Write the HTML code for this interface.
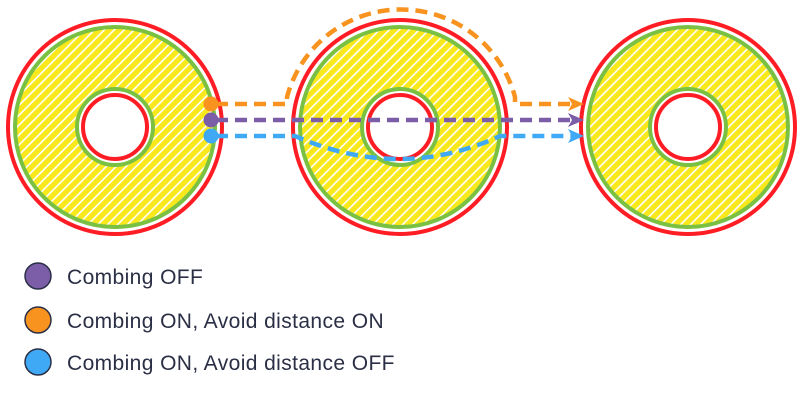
<!DOCTYPE html>
<html><head><style>
html,body{margin:0;padding:0;background:#fff;}
svg{display:block;}
text{font-family:"Liberation Sans",sans-serif;font-size:21px;letter-spacing:0.4px;fill:#2a2f45;}
</style></head><body>
<svg width="800" height="400" viewBox="0 0 800 400">
<defs>
<pattern id="h" width="7" height="7" patternUnits="userSpaceOnUse" patternTransform="rotate(45)">
<rect width="7" height="7" fill="#f8e81c"/>
<rect x="0" y="0" width="1.6" height="7" fill="#fff"/>
</pattern>
<marker id="ao" markerWidth="16" markerHeight="16" refX="8" refY="8" orient="auto" markerUnits="userSpaceOnUse"><path d="M0,1 L16,8 L0,15 L4,8z" fill="#f7931e"/></marker>
<marker id="ap" markerWidth="16" markerHeight="16" refX="8" refY="8" orient="auto" markerUnits="userSpaceOnUse"><path d="M0,1 L16,8 L0,15 L4,8z" fill="#7b5ea7"/></marker>
<marker id="ab" markerWidth="16" markerHeight="16" refX="8" refY="8" orient="auto" markerUnits="userSpaceOnUse"><path d="M0,1 L16,8 L0,15 L4,8z" fill="#3fa9f5"/></marker>
<g id="c">
<circle cx="0" cy="0" r="107" fill="#fff" stroke="#ff1d25" stroke-width="4"/>
<circle cx="0" cy="0" r="100" fill="url(#h)" stroke="#7ac143" stroke-width="4"/>
<circle cx="0" cy="0" r="38" fill="#fff" stroke="#7ac143" stroke-width="4"/>
<circle cx="0" cy="0" r="32" fill="#fff" stroke="#ff1d25" stroke-width="4"/>
</g>
</defs>
<use href="#c" x="115" y="127"/>
<use href="#c" x="400" y="127"/>
<use href="#c" x="688" y="127"/>
<g fill="none" stroke-width="4.5" stroke-dasharray="12,7">
<path d="M216,104 H287 L287,97 A118,118 0 0 1 515,97 L515,104 H576" stroke="#f7931e" marker-end="url(#ao)"/>
<path d="M216,120 H576" stroke="#7b5ea7" marker-end="url(#ap)"/>
<path d="M216,136 H295 Q400,182 500,136 H576" stroke="#3fa9f5" marker-end="url(#ab)"/>
</g>
<circle cx="211" cy="104" r="7.5" fill="#f7931e"/>
<circle cx="211" cy="120" r="7.5" fill="#7b5ea7"/>
<circle cx="211" cy="136" r="7.5" fill="#3fa9f5"/>
<circle cx="38" cy="276" r="13" fill="#7b5ea7" stroke="#2a2f45" stroke-width="1.5"/>
<circle cx="38" cy="320" r="13" fill="#f7931e" stroke="#2a2f45" stroke-width="1.5"/>
<circle cx="38" cy="362" r="13" fill="#3fa9f5" stroke="#2a2f45" stroke-width="1.5"/>
<text x="67" y="284">Combing OFF</text>
<text x="67" y="328">Combing ON, Avoid distance ON</text>
<text x="67" y="370">Combing ON, Avoid distance OFF</text>
</svg>
</body></html>
